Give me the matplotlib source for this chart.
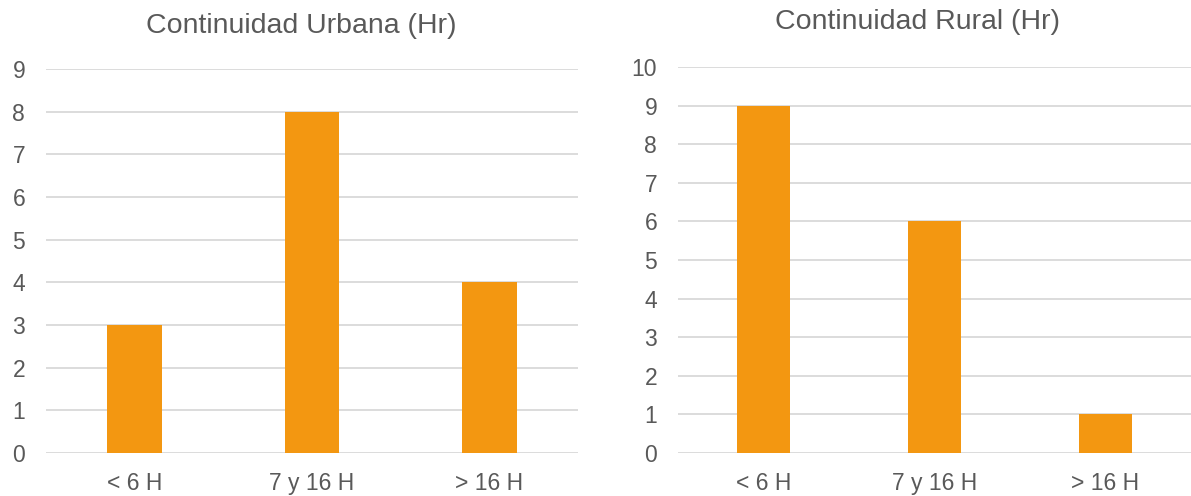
import matplotlib
matplotlib.use("Agg")
import matplotlib.pyplot as plt

categories = ["< 6 H", "7 y 16 H", "> 16 H"]
urbana = [3, 8, 4]
rural = [9, 6, 1]
title_urbana = "Continuidad Urbana (Hr)"
title_rural = "Continuidad Rural (Hr)"

plt.rcParams['font.family'] = ['Liberation Sans', 'DejaVu Sans']
BAR = "#F39711"
TXT = "#595959"
GRID = "#D9D9D9"

fig = plt.figure(figsize=(11.91, 4.96), dpi=100)
ax1 = fig.add_axes([46/1191, 43/496, 532/1191, 384/496])
ax2 = fig.add_axes([678/1191, 43/496, 513/1191, 386/496])

def style(ax, vals, title, ymax, tx, tpad):
    x = range(len(categories))
    ax.bar(x, vals, width=0.31, color=BAR, zorder=3)
    ax.set_xlim(-0.5, len(categories) - 0.5)
    ax.set_ylim(0, ymax)
    ax.set_yticks(range(0, ymax + 1))
    ax.set_xticks(list(x))
    ax.set_xticklabels(categories)
    ax.grid(axis='y', color=GRID, linewidth=1.3, zorder=0)
    for s in ax.spines.values():
        s.set_visible(False)
    ax.tick_params(axis='both', length=0, labelsize=16.5, colors=TXT)
    ax.tick_params(axis='y', pad=15)
    ax.tick_params(axis='x', pad=14)
    ax.set_title(title, fontsize=20.5, color=TXT, pad=tpad, x=tx)

style(ax1, urbana, title_urbana, 9, 0.480, 26)
style(ax2, rural, title_rural, 10, 0.466, 27.5)

fig.savefig("out.png", dpi=100, facecolor="white")
